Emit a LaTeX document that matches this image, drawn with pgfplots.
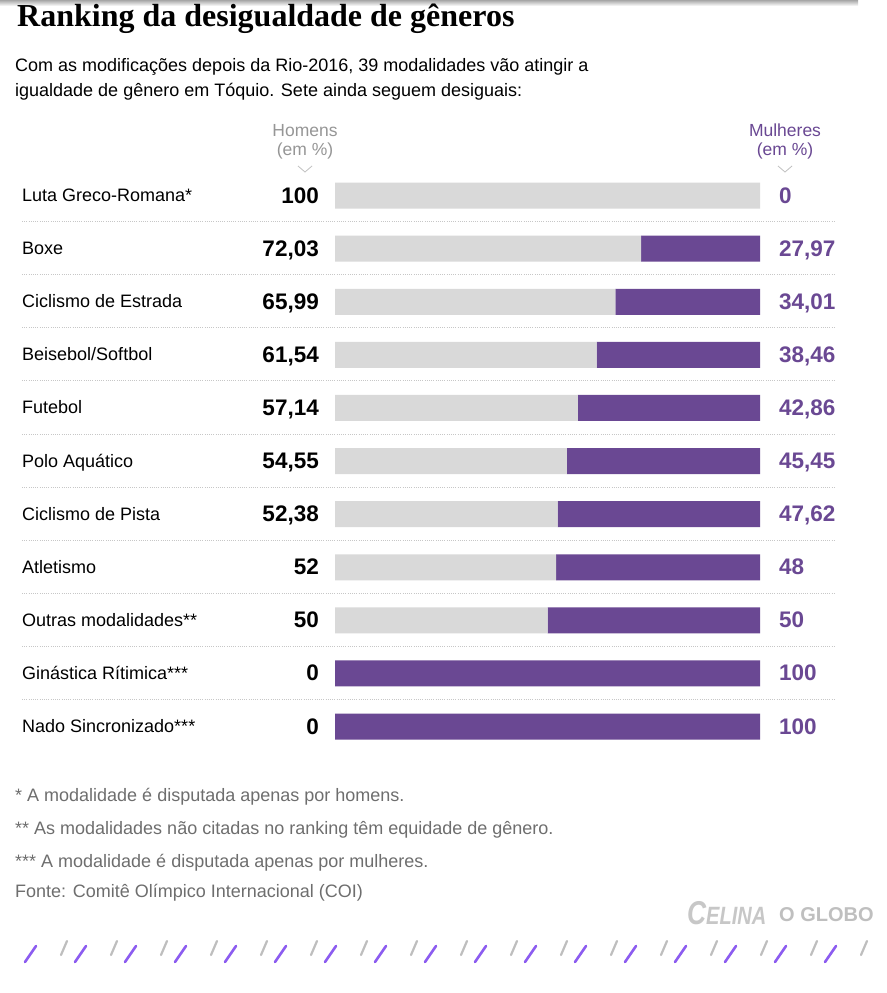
\documentclass[border=0pt]{standalone}
\usepackage{pgfplots}
\pgfplotsset{compat=1.18}
\usepackage{fontspec}
\setmainfont{Liberation Sans}
\newfontfamily\titlefont{Liberation Serif}
\definecolor{roxo}{RGB}{106,72,147}
\definecolor{barcinza}{RGB}{217,217,217}
\definecolor{notacinza}{RGB}{110,110,110}
\definecolor{headcinza}{RGB}{150,150,150}
\definecolor{violeta}{RGB}{140,92,240}
\definecolor{tracocinza}{RGB}{190,190,190}

\begin{document}
\begin{tikzpicture}
  % page frame
  \fill[white] (0pt,0pt) rectangle (886pt,-993pt);
  \shade[top color=black!35, bottom color=white] (0pt,0pt) rectangle (858pt,-6pt);

  % title and subtitle
  \node[anchor=base west, inner sep=0pt, font=\titlefont\bfseries\fontsize{32}{32}\selectfont]
    at (17pt,-27pt) {Ranking da desigualdade de gêneros};
  \node[anchor=base west, inner sep=0pt, font=\fontsize{18}{18}\selectfont]
    at (15pt,-71pt) {Com as modificações depois da Rio-2016, 39 modalidades vão atingir a};
  \node[anchor=base west, inner sep=0pt, font=\fontsize{18}{18}\selectfont]
    at (15pt,-96pt) {igualdade de gênero em Tóquio. Sete ainda seguem desiguais:};

  % column headers
  \node[anchor=base, inner sep=0pt, text=headcinza, font=\fontsize{17.5}{17.5}\selectfont] at (305pt,-136pt) {Homens};
  \node[anchor=base, inner sep=0pt, text=headcinza, font=\fontsize{17.5}{17.5}\selectfont] at (305pt,-155pt) {(em \%)};
  \node[anchor=base, inner sep=0pt, text=roxo, font=\fontsize{17.5}{17.5}\selectfont] at (785pt,-136pt) {Mulheres};
  \node[anchor=base, inner sep=0pt, text=roxo, font=\fontsize{17.5}{17.5}\selectfont] at (785pt,-155pt) {(em \%)};
  \draw[black!25, line width=0.8pt] (298pt,-166pt) -- (305pt,-172pt) -- (312pt,-166pt);
  \draw[black!25, line width=0.8pt] (778pt,-166pt) -- (785pt,-172pt) -- (792pt,-166pt);

  % dotted separators
  \foreach \i in {0,...,9}
    \draw[black!22, line width=0.8pt, dash pattern=on 1pt off 1.2pt]
      (22pt,{-(221.5+53.1*\i)*1pt}) -- (836pt,{-(221.5+53.1*\i)*1pt});

  % bars
  \begin{axis}[
      at={(335pt,-169pt)}, anchor=north west,
      width=425pt, height=584.1pt, scale only axis,
      xbar stacked, bar width=26pt,
      xmin=0, xmax=100,
      ymin=-0.5, ymax=10.5, y dir=reverse,
      hide axis]
    \addplot[fill=barcinza, draw=none] coordinates {
      (100,0) (72.03,1) (65.99,2) (61.54,3) (57.14,4) (54.55,5)
      (52.38,6) (52,7) (50,8) (0,9) (0,10)};
    \addplot[fill=roxo, draw=none] coordinates {
      (0,0) (27.97,1) (34.01,2) (38.46,3) (42.86,4) (45.45,5)
      (47.62,6) (48,7) (50,8) (100,9) (100,10)};
  \end{axis}

  % row labels and values
  \foreach \nome [count=\i from 0] in {Luta Greco-Romana*, Boxe, Ciclismo de Estrada,
      Beisebol/Softbol, Futebol, Polo Aquático, Ciclismo de Pista, Atletismo,
      Outras modalidades**, Ginástica Rítimica***, Nado Sincronizado***}
    \node[anchor=base west, inner sep=0pt, font=\fontsize{18}{18}\selectfont]
      at (22pt,{-(201.5+53.1*\i)*1pt}) {\nome};
  \foreach \h [count=\i from 0] in {100,{72,03},{65,99},{61,54},{57,14},{54,55},{52,38},52,50,0,0}
    \node[anchor=base east, inner sep=0pt, font=\bfseries\fontsize{22.5}{22.5}\selectfont]
      at (319pt,{-(203+53.1*\i)*1pt}) {\h};
  \foreach \m [count=\i from 0] in {0,{27,97},{34,01},{38,46},{42,86},{45,45},{47,62},48,50,100,100}
    \node[anchor=base west, inner sep=0pt, text=roxo, font=\bfseries\fontsize{22.5}{22.5}\selectfont]
      at (779pt,{-(203+53.1*\i)*1pt}) {\m};

  % footnotes
  \begin{scope}[every node/.style={anchor=base west, inner sep=0pt, text=notacinza,
      font=\fontsize{18}{18}\selectfont}]
    \node at (15pt,-801pt) {* A modalidade é disputada apenas por homens.};
    \node at (15pt,-834pt) {** As modalidades não citadas no ranking têm equidade de gênero.};
    \node at (15pt,-867pt) {*** A modalidade é disputada apenas por mulheres.};
    \node at (15pt,-897pt) {Fonte: Comitê Olímpico Internacional (COI)};
  \end{scope}

  % logo
  \node[anchor=base west, inner sep=0pt, text=black!22, xscale=0.8, transform shape,
      font=\bfseries\itshape\fontsize{33}{33}\selectfont] at (687pt,-924pt) {C\fontsize{25}{25}\selectfont ELINA};
  \node[anchor=base west, inner sep=0pt, text=black!25, font=\bfseries\fontsize{20}{20}\selectfont]
    at (779pt,-921pt) {O GLOBO};

  % decorative slashes
  \foreach \k in {0,...,16} {
    \draw[violeta, line width=2.6pt, line cap=round]
      ({(25+50*\k)*1pt},-962pt) -- ({(36+50*\k)*1pt},-946pt);
    \draw[tracocinza, line width=2.2pt, line cap=round]
      ({(61+50*\k)*1pt},-955pt) -- ({(67+50*\k)*1pt},-941pt);
  }
\end{tikzpicture}
\end{document}
